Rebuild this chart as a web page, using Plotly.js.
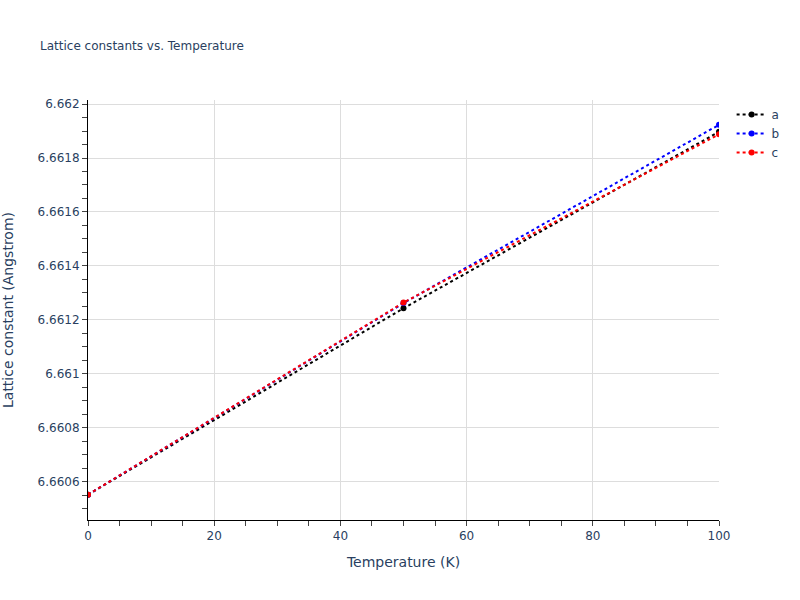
<!DOCTYPE html>
<html>
<head>
<meta charset="utf-8">
<script src="https://cdn.plot.ly/plotly-3.0.1.min.js"></script>
<style>html,body{margin:0;padding:0;}#chart{width:800px;height:600px;}</style>
</head>
<body>
<div id="chart"></div>
<script>
const temperature = [0, 50, 100];
const latticeA = [6.660552, 6.661243, 6.661897];
const latticeB = [6.660552, 6.661262, 6.661923];
const latticeC = [6.660552, 6.661264, 6.661888];
const seriesNames = ['a', 'b', 'c'];
const seriesColors = ['black', 'blue', 'red'];

const seriesValues = [latticeA, latticeB, latticeC];
const traces = seriesValues.map((vals, i) => ({
  x: temperature,
  y: vals,
  name: seriesNames[i],
  type: 'scatter',
  mode: 'lines+markers',
  line: {color: seriesColors[i], dash: 'dot', width: 2},
  marker: {color: seriesColors[i], size: 6}
}));

const layout = {
  width: 800,
  height: 600,
  margin: {l: 88, r: 81, t: 100, b: 80},
  paper_bgcolor: 'white',
  plot_bgcolor: 'white',
  font: {family: 'Verdana, "DejaVu Sans", sans-serif', color: '#2a3f5f'},
  title: {text: 'Lattice constants vs. Temperature', font: {size: 12}, x: 0.05, xanchor: 'left', y: 0.93},
  xaxis: {
    title: {text: 'Temperature (K)', font: {size: 14}, standoff: 14},
    range: [0, 100],
    showline: true, linecolor: 'black', linewidth: 1,
    ticks: 'outside', ticklen: 5, tickcolor: '#444',
    dtick: 20,
    minor: {dtick: 5, ticks: 'outside', ticklen: 5, tickcolor: '#444', showgrid: false},
    gridcolor: '#dddddd', zeroline: false
  },
  yaxis: {
    title: {text: 'Lattice constant (Angstrom)', font: {size: 14}, standoff: 28},
    range: [6.660458, 6.662015],
    showline: true, linecolor: 'black', linewidth: 1,
    ticks: 'outside', ticklen: 5, tickcolor: '#444',
    dtick: 0.0002,
    minor: {dtick: 0.00005, ticks: 'outside', ticklen: 5, tickcolor: '#444', showgrid: false},
    gridcolor: '#dddddd', zeroline: false
  },
  legend: {x: 1.02, y: 1, xanchor: 'left', yanchor: 'top', font: {size: 12}}
};

Plotly.newPlot('chart', traces, layout, {displayModeBar: false});
</script>
</body>
</html>
